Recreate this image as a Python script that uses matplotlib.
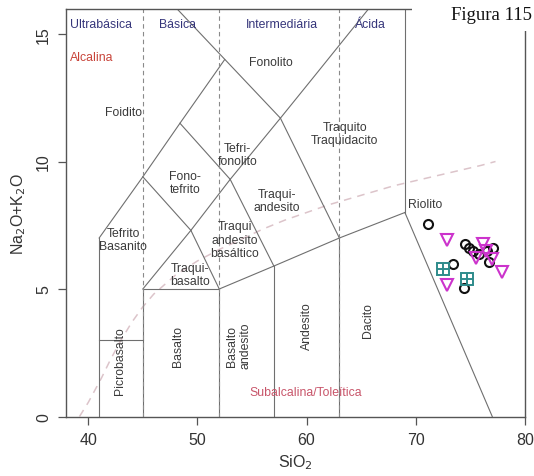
import matplotlib
matplotlib.use("Agg")
import matplotlib.pyplot as plt
from matplotlib.patches import Rectangle

plt.rcParams['font.family'] = ['Liberation Sans', 'DejaVu Sans']

# ---- data -------------------------------------------------------------
circle_x = [71.15, 74.5, 74.9, 75.27, 75.82, 76.5, 77.1, 76.74, 73.44, 74.42]
circle_y = [7.53, 6.75, 6.62, 6.49, 6.39, 6.49, 6.62, 6.05, 6.0, 5.05]

tri_x = [72.89, 76.19, 75.5, 76.96, 77.87, 72.83, 76.4]
tri_y = [6.94, 6.75, 6.23, 6.19, 5.66, 5.14, 6.5]

sq_x = [72.52, 74.72]
sq_y = [5.77, 5.38]

# TAS field boundaries (solid)
tas_lines = [
    [(41, 0), (41, 7)],
    [(41, 3), (45, 3)],
    [(45, 0), (45, 5)],
    [(45, 5), (52, 5)],
    [(52, 0), (52, 5)],
    [(52, 5), (57, 5.9), (63, 7), (69, 8)],
    [(57, 0), (57, 5.9)],
    [(63, 0), (63, 7)],
    [(69, 8), (77, 0)],
    [(69, 8), (69, 16)],
    [(41, 7), (45, 9.4), (48.4, 11.5), (52.5, 14)],
    [(57.6, 11.7), (48.1, 16)],
    [(45, 5), (49.4, 7.3), (53, 9.3), (57.6, 11.7), (61, 13.5), (65.7, 16)],
    [(49.4, 7.3), (52, 5)],
    [(45, 9.4), (49.4, 7.3)],
    [(48.4, 11.5), (53, 9.3)],
    [(53, 9.3), (57, 5.9)],
    [(57.6, 11.7), (63, 7)],
]

# silica class dividers (dashed)
class_x = [45, 52, 63]

# alkaline / subalkaline divide
ib_x = [39.2, 40.0, 41.2, 42.0, 43.0, 44.0, 45.0, 46.0, 48.0, 50.0, 52.0,
        54.0, 56.0, 58.0, 60.0, 62.0, 64.0, 66.0, 68.0, 70.0, 72.0, 74.0,
        76.0, 77.3]
ib_y = [0.0, 0.55, 1.5, 2.2, 3.0, 3.7, 4.3, 4.8, 5.55, 6.1, 6.55,
        6.95, 7.35, 7.7, 8.0, 8.3, 8.55, 8.8, 9.05, 9.25, 9.45, 9.65,
        9.85, 10.0]

# field labels: (text, x, y, rotation)
field_labels = [
    ("Foidito", 43.2, 11.95, 0),
    ("Fonolito", 56.7, 13.9, 0),
    ("Tefri-\nfonolito", 53.7, 10.27, 0),
    ("Traquito\nTraquidacito", 63.5, 11.1, 0),
    ("Fono-\ntefrito", 48.85, 9.17, 0),
    ("Traqui-\nandesito", 57.3, 8.47, 0),
    ("Tefrito\nBasanito", 43.2, 6.95, 0),
    ("Traqui\nandesito\nbasáltico", 53.4, 6.94, 0),
    ("Traqui-\nbasalto", 49.3, 5.57, 0),
    ("Picrobasalto", 42.95, 2.2, 90),
    ("Basalto", 48.2, 2.8, 90),
    ("Basalto\nandesito", 53.8, 2.8, 90),
    ("Andesito", 60.0, 3.6, 90),
    ("Dacito", 65.6, 3.8, 90),
]

class_labels = [("Ultrabásica", 41.2, 15.4), ("Básica", 48.2, 15.4),
                ("Intermediária", 57.7, 15.4), ("Ácida", 65.8, 15.4)]

x_ticks = [40, 50, 60, 70, 80]
y_ticks = [0, 5, 10, 15]

# ---- figure -----------------------------------------------------------
W, H = 534, 477
fig = plt.figure(figsize=(W / 100, H / 100), dpi=100)
left, right, top, bottom = 66.4, 525, 9.5, 417.5
ax = fig.add_axes([left / W, 1 - bottom / H, (right - left) / W, (bottom - top) / H])
ax.set_xlim(38, 80)
ax.set_ylim(0, 16)

line_col = '#6f6f6f'
for seg in tas_lines:
    xs = [p[0] for p in seg]
    ys = [p[1] for p in seg]
    ax.plot(xs, ys, color=line_col, lw=0.8, zorder=2)

for cx in class_x:
    ax.plot([cx, cx], [0, 16], color='#8a8a8a', lw=0.8, ls=(0, (4, 3)), zorder=2)

ax.plot(ib_x, ib_y, color='#dcc4ca', lw=1.1, ls=(0, (5, 4)), zorder=1)

txt_col = '#3a3a3a'
for t, x, y, r in field_labels:
    ax.text(x, y, t, ha='center', va='center', fontsize=8.8, color=txt_col,
            rotation=r, linespacing=1.15, zorder=3)

ax.text(69.3, 8.35, "Riolito", ha='left', va='center', fontsize=8.8, color=txt_col,
        zorder=3)

for t, x, y in class_labels:
    ax.text(x, y, t, ha='center', va='center', fontsize=8.8, color='#35357a', zorder=3)

ax.text(38.35, 14.1, "Alcalina", ha='left', va='center', fontsize=8.8, color='#c8443a')
ax.text(59.9, 0.95, "Subalcalina/Toleítica", ha='center', va='center', fontsize=8.8,
        color='#c8556a')

# points
ax.plot(circle_x, circle_y, ls='none', marker='o', ms=6.5, mfc='none', mec='#111111',
        mew=1.5, zorder=5)
ax.plot(tri_x, tri_y, ls='none', marker='v', ms=9, mfc='none', mec='#cc33cc',
        mew=1.5, zorder=5)
ax.plot(sq_x, sq_y, ls='none', marker='s', ms=8, mfc='none', mec='#2e8b8b',
        mew=1.4, zorder=6)
ax.plot(sq_x, sq_y, ls='none', marker='+', ms=8, mec='#2e8b8b', mew=1.4, zorder=6)

# axes styling
for s in ax.spines.values():
    s.set_color('#555555')
    s.set_linewidth(1.0)
ax.set_xticks(x_ticks)
ax.set_yticks(y_ticks)
ax.tick_params(axis='both', length=6, width=0.9, color='#555555', labelsize=11.5,
               labelcolor='#333333')
for lab in ax.get_yticklabels():
    lab.set_rotation(90)
    lab.set_va('center')
ax.tick_params(axis='x', pad=5)
ax.tick_params(axis='y', pad=5)
ax.set_xlabel("SiO$_2$", fontsize=11.5, color='#333333', labelpad=4)
ax.set_ylabel("Na$_2$O+K$_2$O", fontsize=11.5, color='#333333', labelpad=6)

# white patch at top right with figure caption
fig.patches.append(Rectangle((412 / W, 1 - 32 / H), 1, 32 / H, transform=fig.transFigure,
                             facecolor='white', edgecolor='none', zorder=10))
fig.text(532 / W, 1 - 16 / H, "Figura 115", ha='right', va='center', fontsize=13.5,
         family='Liberation Serif', color='#111111', zorder=11)

fig.savefig("out.png", dpi=100)
